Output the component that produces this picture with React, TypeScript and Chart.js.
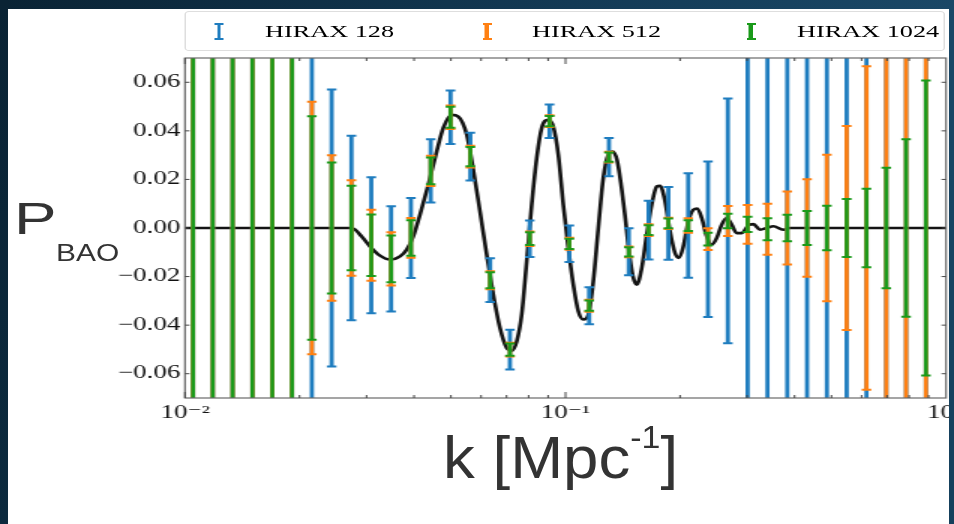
import React, { useEffect, useRef } from "react";
import { Chart, registerables } from "chart.js";

Chart.register(...registerables);

// ---------- data ----------
const seriesNames = ["HIRAX 128", "HIRAX 512", "HIRAX 1024"];
const seriesColors = ["#1f7dbf", "#ff8012", "#1a9a1a"];

// k bins of the forecast error bars [Mpc^-1]
const kBins = [
  0.0105, 0.01183, 0.01334, 0.01504, 0.01696, 0.01911, 0.02155, 0.02429, 0.02738, 0.03087,
  0.0348, 0.03924, 0.04423, 0.04987, 0.05622, 0.06337, 0.07145, 0.08054, 0.0908, 0.10235,
  0.11539, 0.13008, 0.14666, 0.16535, 0.18637, 0.21014, 0.23686, 0.26706, 0.30106, 0.33943,
  0.38266, 0.43137, 0.48634, 0.54826, 0.61802, 0.69663, 0.78533, 0.88552,
];
// centre of each error bar
const pCenter = [
  0, 0, 0, 0, 0, 0, 0, 0, 0, -0.0071,
  -0.0127, -0.0041, 0.0235, 0.0456, 0.0294, -0.0215, -0.0501, -0.0044, 0.044, -0.0065,
  -0.032, 0.0292, -0.0098, -0.0009, 0.0019, 0.001, -0.0046, 0.0029, 0.0015, -0.0005,
  0, 0, 0, 0, 0, 0, 0, 0,
];
const errHirax128 = [
  0.5, 0.4, 0.3, 0.24, 0.18, 0.13, 0.095, 0.057, 0.038, 0.028,
  0.0217, 0.0165, 0.013, 0.011, 0.0098, 0.009, 0.0082, 0.0075, 0.0069, 0.0075,
  0.0076, 0.0079, 0.0097, 0.0121, 0.015, 0.0215, 0.032, 0.0504, 0.08, 0.12,
  0.18, 0.26, 0.38, 0.55, 0.8, 1.2, 1.7, 2.5,
];
const errHirax512 = [
  0.35, 0.28, 0.21, 0.16, 0.12, 0.085, 0.052, 0.03, 0.0197, 0.0146,
  0.011, 0.0082, 0.0062, 0.0048, 0.0045, 0.0037, 0.0028, 0.003, 0.0024, 0.0025,
  0.0025, 0.0022, 0.0022, 0.0024, 0.0023, 0.003, 0.0045, 0.0062, 0.008, 0.0105,
  0.015, 0.0201, 0.0302, 0.042, 0.0666, 0.1, 0.15, 0.22,
];
const errHirax1024 = [
  0.3, 0.24, 0.18, 0.14, 0.105, 0.08, 0.046, 0.027, 0.0174, 0.0127,
  0.0096, 0.0073, 0.0055, 0.0043, 0.004, 0.0033, 0.0025, 0.0026, 0.0021, 0.0021,
  0.0021, 0.0019, 0.0019, 0.002, 0.002, 0.0022, 0.0026, 0.003, 0.0031, 0.0045,
  0.0055, 0.007, 0.0092, 0.0119, 0.0162, 0.0248, 0.0365, 0.0607,
];

// BAO wiggle curve
const curveK = [
  0.01, 0.027424, 0.02913, 0.030634, 0.032545, 0.034575, 0.036732, 0.038252, 0.039811, 0.041458,
  0.043593, 0.045867, 0.047735, 0.050225, 0.052272, 0.055, 0.057239, 0.059607, 0.062073, 0.064603,
  0.067275, 0.07006, 0.072212, 0.074431, 0.076716, 0.079073, 0.081502, 0.084006, 0.086586, 0.090117,
  0.092883, 0.095737, 0.098678, 0.10171, 0.10484, 0.10806, 0.11138, 0.1148, 0.11833, 0.12197,
  0.12571, 0.12958, 0.13308, 0.13659, 0.13994, 0.14337, 0.14688, 0.15047, 0.15388, 0.15861,
  0.16349, 0.16851, 0.17368, 0.17719, 0.18264, 0.18825, 0.19403, 0.19878, 0.20401, 0.21028,
  0.21674, 0.22205, 0.22804, 0.23505, 0.24227, 0.24971, 0.25738, 0.26528, 0.27343, 0.28183,
  0.29049, 0.30232, 0.31161, 0.32451, 0.33795, 0.35173, 0.3736, 0.38905, 1.0,
];
const curveP = [
  0, 0, -0.0035, -0.0076, -0.0114, -0.013, -0.0117, -0.0089, -0.0035, 0.0055,
  0.0178, 0.0315, 0.0412, 0.0466, 0.0459, 0.0385, 0.024, 0.0068, -0.011, -0.0274,
  -0.0412, -0.0494, -0.0505, -0.0467, -0.0357, -0.0137, 0.0096, 0.0288, 0.0412, 0.0446,
  0.0418, 0.0302, 0.0096, -0.0082, -0.0233, -0.0343, -0.0377, -0.0357, -0.022, 0,
  0.0206, 0.0302, 0.0315, 0.028, 0.018, 0.005, -0.0096, -0.02, -0.0233, -0.0165,
  -0.0028, 0.0096, 0.0171, 0.0174, 0.011, -0.0014, -0.0103, -0.0123, -0.0076, 0.0027,
  0.0075, 0.008, 0.0041, -0.0035, -0.0069, -0.0041, 0.0014, 0.0041, 0.0014, -0.0021,
  -0.0021, 0.0011, 0.0016, -0.0007, 0, 0.0007, -0.0007, 0, 0,
];

const yTickValues = [-0.06, -0.04, -0.02, 0, 0.02, 0.04, 0.06];
const yTickLabels = ["\u22120.06", "\u22120.04", "\u22120.02", "0.00", "0.02", "0.04", "0.06"];
const xTickValues = [0.01, 0.1, 1];
const xTickLabels = ["10\u207B\u00B2", "10\u207B\u00B9", "10\u2070"];

const seriesErrors = [errHirax128, errHirax512, errHirax1024];

// ---------- styles ----------
const SERIF = "'Liberation Serif', 'DejaVu Serif', 'Times New Roman', serif";
const SANS = "'Liberation Sans', Arial, 'DejaVu Sans', sans-serif";
const STRETCH = 1.5; // the slide picture is stretched horizontally
const CANVAS_W = 620;
const CANVAS_H = 524;
const barWidths = [2.8, 2.8, 2.6];

const errorBarPlugin = {
  id: "errorBars",
  afterDatasetsDraw(chart: any) {
    const { ctx, chartArea: a, scales } = chart;
    const xs = scales.x;
    const ys = scales.y;
    ctx.save();
    ctx.beginPath();
    ctx.rect(a.left, a.top, a.right - a.left, a.bottom - a.top);
    ctx.clip();
    chart.data.datasets.forEach((ds: any) => {
      if (!ds.errorBars) return;
      ctx.strokeStyle = ds.borderColor;
      ds.data.forEach((pt: any, i: number) => {
        const e = ds.errorBars[i];
        const px = xs.getPixelForValue(pt.x);
        const top = ys.getPixelForValue(pt.y + e);
        const bot = ys.getPixelForValue(pt.y - e);
        ctx.lineWidth = ds.barWidth;
        ctx.beginPath();
        ctx.moveTo(px, top);
        ctx.lineTo(px, bot);
        ctx.stroke();
        ctx.lineWidth = 2;
        ctx.beginPath();
        ctx.moveTo(px - 3.2, top);
        ctx.lineTo(px + 3.2, top);
        ctx.moveTo(px - 3.2, bot);
        ctx.lineTo(px + 3.2, bot);
        ctx.stroke();
      });
    });
    ctx.restore();
  },
};

const framePlugin = {
  id: "frameTicks",
  afterDraw(chart: any) {
    const { ctx, chartArea: a, scales } = chart;
    const xs = scales.x;
    const ys = scales.y;
    ctx.save();
    ctx.strokeStyle = "#6a6a6a";
    ctx.lineWidth = 1.2;
    ctx.strokeRect(a.left, a.top, a.right - a.left, a.bottom - a.top);
    ctx.strokeStyle = "#444";
    ctx.lineWidth = 1;
    const seg = (x1: number, y1: number, x2: number, y2: number) => {
      ctx.beginPath();
      ctx.moveTo(x1, y1);
      ctx.lineTo(x2, y2);
      ctx.stroke();
    };
    for (let d = 0; d < xTickValues.length - 1; d++) {
      for (let m = 1; m < 10; m++) {
        const px = xs.getPixelForValue(m * xTickValues[d]);
        const len = m === 1 ? 6 : 3;
        seg(px, a.bottom, px, a.bottom - len);
        seg(px, a.top, px, a.top + len);
      }
    }
    yTickValues.forEach((v) => {
      const py = ys.getPixelForValue(v);
      seg(a.left, py, a.left + 3, py);
      seg(a.right, py, a.right - 3, py);
    });
    ctx.restore();
  },
};

// legend layout (canvas units, inside stretched layer)
const legendMarkerX = [106, 284.7, 460.7];
const legendTextX = [136.7, 314.7, 491.3];

export default function App() {
  const ref = useRef<HTMLCanvasElement>(null);

  useEffect(() => {
    const canvas = ref.current;
    if (!canvas) return;
    const chart = new Chart(canvas, {
      type: "scatter",
      data: {
        datasets: [
          {
            label: "P_BAO",
            data: curveK.map((k, i) => ({ x: k, y: curveP[i] })),
            showLine: true,
            borderColor: "#141414",
            borderWidth: 2.6,
            pointRadius: 0,
            cubicInterpolationMode: "monotone",
            fill: false,
          } as any,
          ...seriesNames.map(
            (name, s) =>
              ({
                label: name,
                data: kBins.map((k, i) => ({ x: k, y: pCenter[i] })),
                borderColor: seriesColors[s],
                backgroundColor: seriesColors[s],
                pointRadius: 0,
                showLine: false,
                errorBars: seriesErrors[s],
                barWidth: barWidths[s],
              }) as any
          ),
        ],
      },
      options: {
        animation: false,
        responsive: false,
        devicePixelRatio: 1,
        events: [],
        layout: { padding: { top: 58, left: 0, right: 29.33, bottom: 96 } },
        plugins: { legend: { display: false }, tooltip: { enabled: false } },
        scales: {
          x: {
            type: "logarithmic",
            min: 0.01,
            max: 1,
            afterBuildTicks: (s: any) => {
              s.ticks = xTickValues.map((v) => ({ value: v, major: true }));
            },
            afterFit: (s: any) => {
              s.height = 30;
            },
            ticks: {
              autoSkip: false,
              maxRotation: 0,
              padding: 4,
              color: "#111",
              font: { family: SERIF, size: 18 },
              callback: (v: any) => {
                const i = xTickValues.indexOf(Number(v));
                return i >= 0 ? xTickLabels[i] : "";
              },
            },
            grid: { display: false, drawTicks: false },
            border: { display: false },
          },
          y: {
            type: "linear",
            min: -0.07,
            max: 0.07,
            afterBuildTicks: (s: any) => {
              s.ticks = yTickValues.map((v) => ({ value: v }));
            },
            afterFit: (s: any) => {
              s.width = 83.33;
            },
            ticks: {
              padding: 3,
              color: "#111",
              font: { family: SERIF, size: 18 },
              callback: (v: any) => {
                const i = yTickValues.findIndex((t) => Math.abs(t - Number(v)) < 1e-9);
                return i >= 0 ? yTickLabels[i] : "";
              },
            },
            grid: { display: false, drawTicks: false },
            border: { display: false },
          },
        },
      } as any,
      plugins: [errorBarPlugin, framePlugin],
    });
    return () => chart.destroy();
  }, []);

  return (
    <div
      style={{
        position: "fixed",
        left: 0,
        top: 0,
        width: 954,
        height: 524,
        overflow: "hidden",
        background: "#ffffff",
      }}
    >
      {/* stretched figure layer */}
      <div
        style={{
          position: "absolute",
          left: 60,
          top: 0,
          width: CANVAS_W,
          height: CANVAS_H,
          transform: `scaleX(${STRETCH})`,
          transformOrigin: "0 0",
        }}
      >
        <canvas ref={ref} width={CANVAS_W} height={CANVAS_H} style={{ display: "block" }} />
        <div
          style={{
            position: "absolute",
            left: 83.3,
            top: 11,
            width: 506.7,
            height: 40,
            border: "1px solid #dedede",
            borderRadius: 3,
            boxSizing: "border-box",
          }}
        />
        {seriesNames.map((name, i) => (
          <React.Fragment key={name}>
            <div
              style={{
                position: "absolute",
                left: legendMarkerX[i] - 1.25,
                top: 23,
                width: 2.5,
                height: 17,
                background: seriesColors[i],
              }}
            />
            <div
              style={{
                position: "absolute",
                left: legendMarkerX[i] - 3,
                top: 23,
                width: 6,
                height: 2,
                background: seriesColors[i],
              }}
            />
            <div
              style={{
                position: "absolute",
                left: legendMarkerX[i] - 3,
                top: 38,
                width: 6,
                height: 2,
                background: seriesColors[i],
              }}
            />
            <div
              style={{
                position: "absolute",
                left: legendTextX[i],
                top: 23,
                fontFamily: SERIF,
                fontSize: 17.5,
                lineHeight: "17px",
                color: "#000",
                whiteSpace: "nowrap",
              }}
            >
              {name}
            </div>
          </React.Fragment>
        ))}
      </div>

      {/* y axis title */}
      <div
        style={{
          position: "absolute",
          left: 14,
          top: 197,
          fontFamily: SANS,
          fontSize: 44,
          lineHeight: "44px",
          color: "#333",
          transform: "scaleX(1.45)",
          transformOrigin: "0 0",
          whiteSpace: "nowrap",
        }}
      >
        P
      </div>
      <div
        style={{
          position: "absolute",
          left: 56,
          top: 242,
          fontFamily: SANS,
          fontSize: 23,
          lineHeight: "23px",
          color: "#333",
          transform: "scaleX(1.3)",
          transformOrigin: "0 0",
          whiteSpace: "nowrap",
        }}
      >
        BAO
      </div>

      {/* x axis title */}
      <div
        style={{
          position: "absolute",
          left: 443,
          top: 428,
          fontFamily: SANS,
          fontSize: 60,
          lineHeight: "60px",
          color: "#333",
          transform: "scaleX(1.06)",
          transformOrigin: "0 0",
          whiteSpace: "nowrap",
        }}
      >
        k [Mpc
        <span style={{ fontSize: 32, position: "relative", top: -30 }}>-1</span>]
      </div>

      {/* slide frame */}
      <div
        style={{
          position: "absolute",
          left: 0,
          top: 0,
          width: 954,
          height: 9,
          background: "linear-gradient(90deg, #0a2334, #133a55 60%, #1a4867)",
        }}
      />
      <div
        style={{
          position: "absolute",
          left: 0,
          top: 0,
          width: 8,
          height: 524,
          background: "linear-gradient(180deg, #0a2334, #0c2a3e)",
        }}
      />
      <div
        style={{
          position: "absolute",
          left: 949,
          top: 0,
          width: 5,
          height: 524,
          background: "linear-gradient(180deg, #1a4867, #15405c)",
        }}
      />
    </div>
  );
}
